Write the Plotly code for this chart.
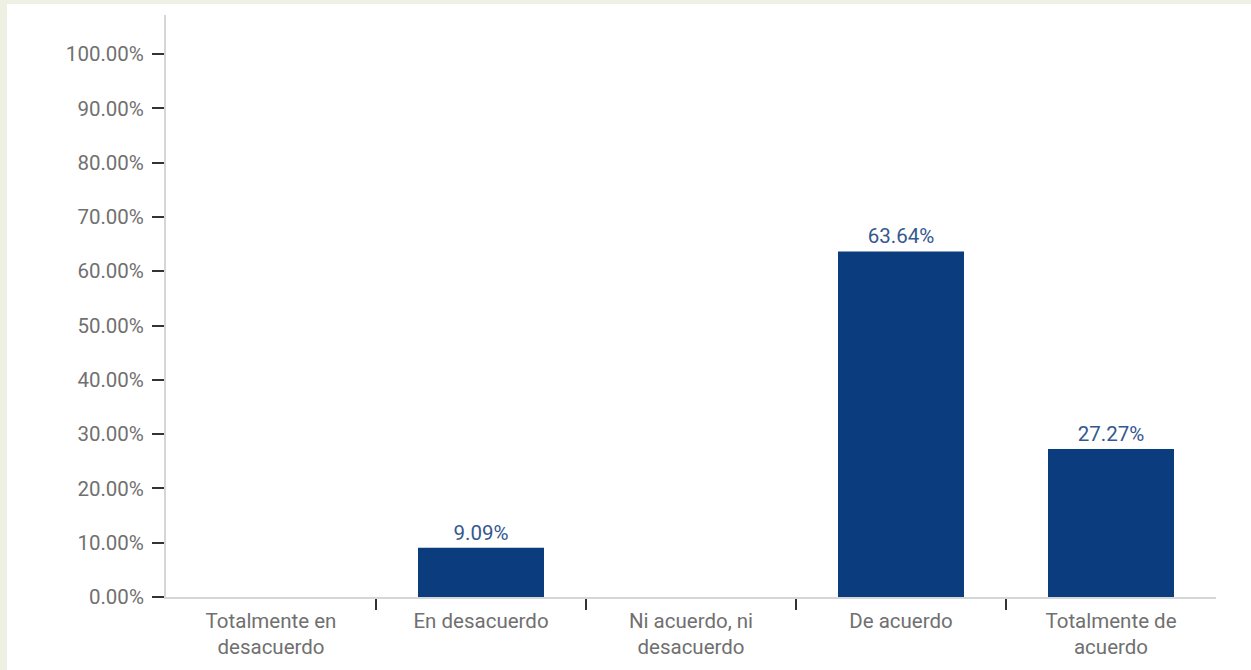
import plotly.graph_objects as go

# Survey response distribution
categories = [
    "Totalmente en<br>desacuerdo",
    "En desacuerdo",
    "Ni acuerdo, ni<br>desacuerdo",
    "De acuerdo",
    "Totalmente de<br>acuerdo",
]
percentages = [0.0, 9.09, 0.0, 63.64, 27.27]
y_ticks = [0, 10, 20, 30, 40, 50, 60, 70, 80, 90, 100]

W, H = 1251, 670
M_L, M_R, M_T, M_B = 166, 35, 15, 73

BAR_COLOR = "#0b3d7e"
LABEL_BLUE = "#34588f"
TEXT_GRAY = "#707070"
AXIS_GRAY = "#d6d6d6"
TICK_COLOR = "#333333"
FONT = "Roboto, Arial, sans-serif"
FS = 20.5

n = len(categories)
positions = list(range(n))
labels = [f"{v:.2f}%" if v > 0 else "" for v in percentages]

fig = go.Figure(
    go.Bar(
        x=positions,
        y=percentages,
        width=0.6,
        marker=dict(color=BAR_COLOR, line=dict(width=0)),
        text=labels,
        textposition="outside",
        cliponaxis=False,
        textfont=dict(family=FONT, size=FS, color=LABEL_BLUE),
        hoverinfo="skip",
    )
)

# white card over the tinted page, expressed in paper coordinates
pw = W - M_L - M_R
ph = H - M_T - M_B
fig.add_shape(
    type="rect", xref="paper", yref="paper",
    x0=(7 - M_L) / pw, x1=(W - M_L) / pw,
    y0=(H - M_B - H) / ph, y1=(H - M_B - 4) / ph,
    fillcolor="white", line=dict(width=0), layer="below",
)

fig.update_layout(
    width=W,
    height=H,
    margin=dict(l=M_L, r=M_R, t=M_T, b=M_B, autoexpand=False),
    paper_bgcolor="#eef0e3",
    plot_bgcolor="rgba(0,0,0,0)",
    showlegend=False,
    font=dict(family=FONT, size=FS, color=TEXT_GRAY),
    xaxis=dict(
        range=[-0.5, n - 0.5],
        tickmode="array",
        tickvals=positions,
        ticktext=categories,
        showline=True,
        linecolor=AXIS_GRAY,
        linewidth=2,
        showgrid=False,
        zeroline=False,
        ticks="",
        ticklabelstandoff=4,
        tickfont=dict(family=FONT, size=FS, color=TEXT_GRAY),
        automargin=False,
        fixedrange=True,
        # separator marks between categories
        minor=dict(
            tickmode="array",
            tickvals=[p + 0.5 for p in positions[:-1]],
            ticks="outside",
            ticklen=11,
            tickwidth=2,
            tickcolor=TICK_COLOR,
            showgrid=False,
        ),
    ),
    yaxis=dict(
        range=[0, 107.2],
        tickmode="array",
        tickvals=y_ticks,
        ticktext=[f"{v:.2f}%" for v in y_ticks],
        showline=True,
        linecolor=AXIS_GRAY,
        linewidth=2,
        showgrid=False,
        zeroline=False,
        ticks="outside",
        ticklen=12,
        tickwidth=2,
        tickcolor=TICK_COLOR,
        ticklabelstandoff=4,
        tickfont=dict(family=FONT, size=FS, color=TEXT_GRAY),
        automargin=False,
        fixedrange=True,
    ),
)

fig.write_html("out.html", config={"displayModeBar": False})
